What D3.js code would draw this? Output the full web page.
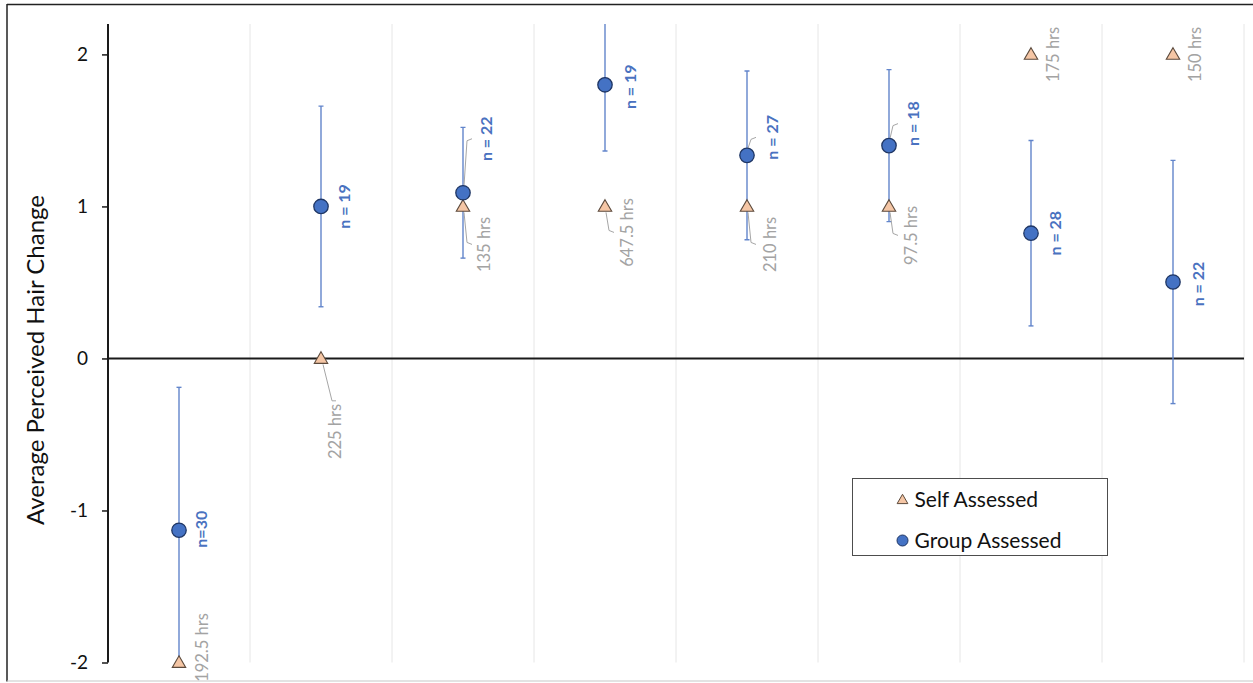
<!DOCTYPE html>
<html>
<head>
<meta charset="utf-8">
<script src="https://cdn.jsdelivr.net/npm/d3@7"></script>
<style>
  html, body { margin: 0; padding: 0; background: #fff; }
  svg { display: block; }
  text { font-family: Lato, "Open Sans", "Liberation Sans", sans-serif; }
</style>
</head>
<body>
<svg id="chart" width="1253" height="683"></svg>
<script>
// Sessions (one column each)
const sessions = [1, 2, 3, 4, 5, 6, 7, 8];
// Self-assessed change per session
const selfValues = [-2, 0, 1, 1, 1, 1, 2, 2];
// Group-assessed mean change and its spread
const groupMeans = [-1.13, 1.0, 1.09, 1.80, 1.336, 1.40, 0.824, 0.503];
const groupErrors = [0.94, 0.66, 0.43, 0.435, 0.555, 0.50, 0.61, 0.80];
// Group sizes and hours per session
const groupSizes = ["n=30", "n = 19", "n = 22", "n = 19", "n = 27", "n = 18", "n = 28", "n = 22"];
const sessionHours = [192.5, 225, 135, 647.5, 210, 97.5, 175, 150];
// Y axis ticks
const yTicks = [-2, -1, 0, 1, 2];

// Label placement relative to each marker (pixels) and leader style
const groupLabelLayout = [
  { dx: 22, dy: -1, leader: null },
  { dx: 23, dy: 0, leader: null },
  { dx: 23, dy: -54, leader: "side" },
  { dx: 25, dy: 2, leader: null },
  { dx: 25, dy: -18, leader: "side" },
  { dx: 24, dy: -22, leader: "side" },
  { dx: 24, dy: 0, leader: null },
  { dx: 25, dy: 2, leader: null }
];
const hoursLabelLayout = [
  { dx: 23, dy: -15, leader: null },
  { dx: 14, dy: 73, leader: "top" },
  { dx: 21, dy: 38, leader: "side" },
  { dx: 22, dy: 26, leader: "side" },
  { dx: 23, dy: 38, leader: "side" },
  { dx: 22, dy: 29, leader: "side" },
  { dx: 22, dy: 0, leader: null },
  { dx: 22, dy: 0, leader: null }
];

const svg = d3.select("#chart");
const W = 1253, H = 683;
const plot = { left: 108, right: 1244, top: 24, bottom: 662.5 };

const x = d3.scaleBand().domain(sessions).range([plot.left, plot.right]).padding(0);
const y = d3.scaleLinear().domain([-2, 2.2]).range([plot.bottom, plot.top]);
const cx = s => x(s) + x.bandwidth() / 2;

// Frame of the figure
svg.append("line").attr("x1", 7).attr("x2", W).attr("y1", 4.5).attr("y2", 4.5)
  .attr("stroke", "#222").attr("stroke-width", 1.5);
svg.append("line").attr("x1", 7).attr("x2", 7).attr("y1", 4).attr("y2", 681.5)
  .attr("stroke", "#222").attr("stroke-width", 1.5);
svg.append("line").attr("x1", 7).attr("x2", W).attr("y1", 681).attr("y2", 681)
  .attr("stroke", "#c8c8c8").attr("stroke-width", 1.2);

// Column separators
svg.append("g").selectAll("line")
  .data(sessions.slice(1).concat(["end"]))
  .join("line")
  .attr("x1", d => d === "end" ? plot.right : x(d))
  .attr("x2", d => d === "end" ? plot.right : x(d))
  .attr("y1", plot.top).attr("y2", plot.bottom)
  .attr("stroke", "#e6e6e6").attr("stroke-width", 1);

// Y axis
const yAxis = d3.axisLeft(y).tickValues(yTicks).tickSize(6).tickPadding(14).tickFormat(d => String(d));
const ag = svg.append("g").attr("transform", `translate(${plot.left},0)`).call(yAxis);
ag.select(".domain").attr("stroke", "#1a1a1a").attr("stroke-width", 2)
  .attr("d", `M0,${plot.top}V${plot.bottom}`);
ag.selectAll(".tick line").attr("stroke", "#1a1a1a").attr("stroke-width", 1.5);
ag.selectAll(".tick text").attr("fill", "#111").style("font-size", "19px")
  .style("font-family", "Lato, 'Open Sans', sans-serif");

// Zero line
svg.append("line").attr("x1", plot.left).attr("x2", plot.right)
  .attr("y1", y(0)).attr("y2", y(0)).attr("stroke", "#1a1a1a").attr("stroke-width", 2);

// Axis title
svg.append("text")
  .attr("transform", `translate(44,${360}) rotate(-90)`)
  .attr("text-anchor", "middle")
  .attr("fill", "#111").style("font-size", "24px")
  .text("Average Perceived Hair Change");

// Error bars, clipped to the plotting area
svg.append("clipPath").attr("id", "plotClip").append("rect")
  .attr("x", plot.left).attr("y", plot.top)
  .attr("width", plot.right - plot.left).attr("height", plot.bottom - plot.top);
const eb = svg.append("g").attr("clip-path", "url(#plotClip)")
  .selectAll("g").data(sessions).join("g");
const ebColor = "#6285cb";
eb.append("line")
  .attr("x1", (d) => cx(d)).attr("x2", (d) => cx(d))
  .attr("y1", (d, i) => y(groupMeans[i] + groupErrors[i]))
  .attr("y2", (d, i) => y(groupMeans[i] - groupErrors[i]))
  .attr("stroke", ebColor).attr("stroke-width", 1.4);
[1, -1].forEach(sgn => {
  eb.append("line")
    .attr("x1", d => cx(d) - 2.5).attr("x2", d => cx(d) + 2.5)
    .attr("y1", (d, i) => y(groupMeans[i] + sgn * groupErrors[i]))
    .attr("y2", (d, i) => y(groupMeans[i] + sgn * groupErrors[i]))
    .attr("stroke", ebColor).attr("stroke-width", 1.4);
});

// Label helpers
function labelBox(px, py, lay) {
  return { cx: px + lay.dx, cy: py + lay.dy };
}
const leaderG = svg.append("g");
function drawLeader(px, py, box, lay, halfLen, r) {
  if (!lay.leader) return;
  if (lay.leader === "top") {
    const top = box.cy - halfLen;
    leaderG.append("path")
      .attr("d", d3.line()([[px + 2, py + r], [box.cx - 3, top - 3], [box.cx + 1, top - 3]]))
      .attr("fill", "none").attr("stroke", "#a6a6a6").attr("stroke-width", 1);
  } else {
    const sgn = box.cy < py ? -1 : 1;
    const endX = px + 9, endY = box.cy;
    leaderG.append("path")
      .attr("d", d3.line()([[px + 1, py + sgn * r], [px + 4, endY - sgn * 2], [endX, endY]]))
      .attr("fill", "none").attr("stroke", "#a6a6a6").attr("stroke-width", 1);
  }
}

// Self-assessed triangles
const tri = d3.symbol().type(d3.symbolTriangle).size(78);
svg.append("g").selectAll("path").data(sessions).join("path")
  .attr("d", tri)
  .attr("transform", (d, i) => `translate(${cx(d)},${y(selfValues[i]) + 1})`)
  .attr("fill", "#f5c6a5").attr("stroke", "#5c4a3c").attr("stroke-width", 1.1);

// Group-assessed circles
svg.append("g").selectAll("circle").data(sessions).join("circle")
  .attr("cx", d => cx(d)).attr("cy", (d, i) => y(groupMeans[i]))
  .attr("r", 7.2)
  .attr("fill", "#4472c4").attr("stroke", "#1f3664").attr("stroke-width", 1.3);

// Labels: hours (grey) and group sizes (blue), rotated
const labelG = svg.append("g");
sessions.forEach((s, i) => {
  // hours
  const px = cx(s), py = y(selfValues[i]);
  const lay = hoursLabelLayout[i];
  const box = labelBox(px, py, lay);
  const t = labelG.append("text")
    .attr("transform", `translate(${box.cx},${box.cy}) rotate(-90)`)
    .attr("text-anchor", "middle").attr("dy", "0.35em")
    .attr("fill", "#a3a3a3").style("font-size", "16.5px")
    .text(`${sessionHours[i]} hrs`);
  const half = t.node().getComputedTextLength() / 2;
  drawLeader(px, py, box, lay, half, 6);

  // group sizes
  const gx = cx(s), gy = y(groupMeans[i]);
  const glay = groupLabelLayout[i];
  const gbox = labelBox(gx, gy, glay);
  const gt = labelG.append("text")
    .attr("transform", `translate(${gbox.cx},${gbox.cy}) rotate(-90)`)
    .attr("text-anchor", "middle").attr("dy", "0.35em")
    .attr("fill", "#4a72c0").style("font-size", "16px").style("font-weight", "700")
    .text(groupSizes[i]);
  drawLeader(gx, gy, gbox, glay, gt.node().getComputedTextLength() / 2, 7.2);
});

// Legend
const lg = svg.append("g").attr("transform", "translate(852.5,478.5)");
lg.append("rect").attr("width", 255).attr("height", 77)
  .attr("fill", "#fff").attr("stroke", "#4d4d4d").attr("stroke-width", 1);
lg.append("path").attr("d", d3.symbol().type(d3.symbolTriangle).size(50))
  .attr("transform", "translate(50,22)")
  .attr("fill", "#f5c6a5").attr("stroke", "#5c4a3c").attr("stroke-width", 1);
lg.append("circle").attr("cx", 50).attr("cy", 62).attr("r", 5.5)
  .attr("fill", "#4472c4").attr("stroke", "#1f3664").attr("stroke-width", 1);
lg.append("text").attr("x", 62).attr("y", 28).attr("fill", "#111")
  .style("font-size", "21px").text("Self Assessed");
lg.append("text").attr("x", 62).attr("y", 69).attr("fill", "#111")
  .style("font-size", "21px").text("Group Assessed");
</script>
</body>
</html>
